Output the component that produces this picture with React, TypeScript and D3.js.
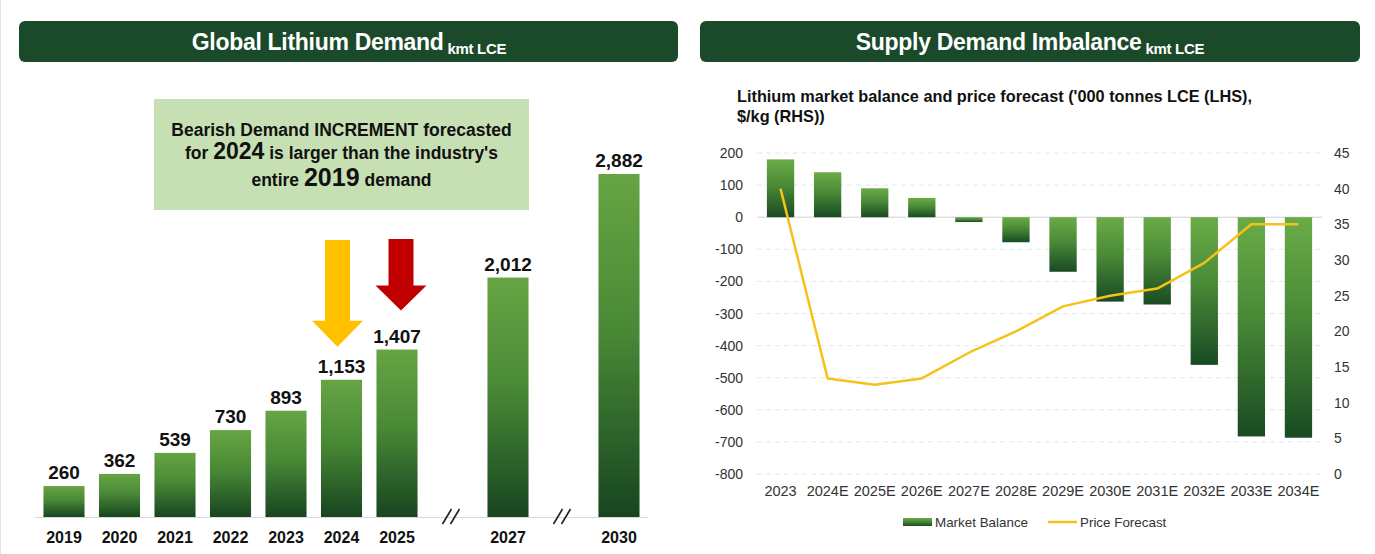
import React from 'react';
import * as d3 from 'd3';

// ---------- Left chart data ----------
const demandSlots = ['2019', '2020', '2021', '2022', '2023', '2024', '2025', 'break1', '2027', 'break2', '2030'];
const demandYears = ['2019', '2020', '2021', '2022', '2023', '2024', '2025', '2027', '2030'];
const demandValues = [260, 362, 539, 730, 893, 1153, 1407, 2012, 2882];
const breakSlots = ['break1', 'break2'];

// ---------- Right chart data ----------
const balanceCategories = ['2023', '2024E', '2025E', '2026E', '2027E', '2028E', '2029E', '2030E', '2031E', '2032E', '2033E', '2034E'];
const marketBalance = [180, 140, 90, 60, -15, -78, -170, -263, -272, -460, -683, -687];
const priceForecast = [40, 13.4, 12.5, 13.4, 17, 20, 23.5, 25, 26, 29.6, 35, 35];
const leftTicks = [200, 100, 0, -100, -200, -300, -400, -500, -600, -700, -800];
const rightTicks = [45, 40, 35, 30, 25, 20, 15, 10, 5, 0];

const FONT = "'Liberation Sans', Arial, Helvetica, sans-serif";
const HEADER = '#1b4a2a';

export default function App() {
  const W = 1375, H = 554;

  // left scales
  const xL = d3.scaleBand<string>().domain(demandSlots).range([36.25, 646.75]).paddingInner(0.26).paddingOuter(0.13);
  const yL = d3.scaleLinear().domain([0, 2882]).range([517, 174]);
  const fmt = d3.format(',');

  // right scales
  const xR = d3.scaleBand<string>().domain(balanceCategories).range([757, 1322]).paddingInner(0.42).paddingOuter(0.21);
  const yR = d3.scaleLinear().domain([-800, 200]).range([474, 153]);
  const yP = d3.scaleLinear().domain([0, 45]).range([474, 153]);

  const priceLine = d3.line<number>()
    .x((_, i) => (xR(balanceCategories[i]) as number) + xR.bandwidth() / 2)
    .y((d) => yP(d));

  const bw = xL.bandwidth();
  const cx = (k: string) => (xL(k) as number) + bw / 2;

  // arrows
  const yArrowX = cx('2024') - 4;
  const yArrowTip = yL(1153) - 33;
  const rArrowX = cx('2025') + 4;
  const rArrowTip = yL(1407) - 39;
  const arrow = (x: number, top: number, tip: number, headH: number) => {
    const sw = 12.5, hw = 25.5;
    return [
      [x - sw, top], [x + sw, top], [x + sw, tip - headH], [x + hw, tip - headH],
      [x, tip], [x - hw, tip - headH], [x - sw, tip - headH],
    ].map((p) => p.join(',')).join(' ');
  };

  return (
    <svg width={W} height={H} style={{ position: 'absolute', left: 0, top: 0, background: '#fff' }} fontFamily={FONT}>
      <defs>
        <linearGradient id="gL" x1="0" y1="0" x2="0" y2="1">
          <stop offset="0%" stopColor="#66a443" />
          <stop offset="45%" stopColor="#4a8a36" />
          <stop offset="100%" stopColor="#174520" />
        </linearGradient>
        <linearGradient id="gR" x1="0" y1="0" x2="0" y2="1">
          <stop offset="0%" stopColor="#6aab47" />
          <stop offset="45%" stopColor="#4a8a37" />
          <stop offset="100%" stopColor="#194a22" />
        </linearGradient>
      </defs>

      <line x1={0.5} x2={0.5} y1={0} y2={H} stroke="#e4e4e4" />

      {/* Headers */}
      <rect x={19} y={21} width={659} height={41} rx={6} fill={HEADER} />
      <text x={349} y={50} textAnchor="middle" fill="#fff" fontWeight="bold" fontSize={23} letterSpacing={-0.3}>
        Global Lithium Demand<tspan fontSize={15} dy={4}> kmt LCE</tspan>
      </text>
      <rect x={700} y={21} width={660} height={41} rx={6} fill={HEADER} />
      <text x={1030} y={50} textAnchor="middle" fill="#fff" fontWeight="bold" fontSize={23} letterSpacing={-0.3}>
        Supply Demand Imbalance<tspan fontSize={15} dy={4}> kmt LCE</tspan>
      </text>

      {/* ---------- Left chart ---------- */}
      <rect x={154} y={99} width={375} height={111} fill="#c6e0b4" />
      <g fontWeight="bold" fill="#111" textAnchor="middle">
        <text x={341.5} y={135.5} fontSize={17.5}>Bearish Demand INCREMENT forecasted</text>
        <text x={341.5} y={159} fontSize={17.5}>
          for <tspan fontSize={23}>2024</tspan> is larger than the industry's
        </text>
        <text x={341.5} y={186} fontSize={17.5}>
          entire <tspan fontSize={25}>2019</tspan> demand
        </text>
      </g>

      <polygon points={arrow(yArrowX, 240, yArrowTip, 26)} fill="#ffc000" />
      <polygon points={arrow(rArrowX, 239, rArrowTip, 25)} fill="#c00000" />

      <line x1={35} x2={648} y1={517.5} y2={517.5} stroke="#d9d9d9" strokeWidth={1} />

      {demandYears.map((yr, i) => (
        <g key={yr}>
          <rect x={xL(yr)} y={yL(demandValues[i])} width={bw} height={517 - yL(demandValues[i])} fill="url(#gL)" />
          <text x={cx(yr)} y={yL(demandValues[i]) - 7} textAnchor="middle" fontWeight="bold" fontSize={19} fill="#111">
            {fmt(demandValues[i])}
          </text>
          <text x={cx(yr)} y={542.5} textAnchor="middle" fontWeight="bold" fontSize={16} fill="#111">{yr}</text>
        </g>
      ))}

      {breakSlots.map((b) => {
        const c = cx(b);
        return (
          <g key={b} stroke="#222" strokeWidth={1.6}>
            <line x1={c - 10} y1={524} x2={c - 1} y2={509} />
            <line x1={c - 2} y1={524} x2={c + 7} y2={509} />
          </g>
        );
      })}

      {/* ---------- Right chart ---------- */}
      <text fontWeight="bold" fontSize={16.3} fill="#111">
        <tspan x={737} y={101.5}>Lithium market balance and price forecast ('000 tonnes LCE (LHS),</tspan>
        <tspan x={737} y={121.5}>$/kg (RHS))</tspan>
      </text>

      {leftTicks.map((t) => (
        <g key={t}>
          <line x1={757} x2={1322} y1={yR(t)} y2={yR(t)}
            stroke={t === 0 ? '#d0d0d0' : '#e6e6e6'} strokeDasharray={t === 0 ? undefined : '5,4'} />
          <text x={743} y={yR(t) + 5} textAnchor="end" fontSize={14} fill="#333">{t}</text>
        </g>
      ))}
      {rightTicks.map((t) => (
        <text key={t} x={1334} y={yP(t) + 5} fontSize={14} fill="#333">{t}</text>
      ))}

      {balanceCategories.map((c, i) => {
        const v = marketBalance[i];
        return (
          <rect key={c} x={xR(c)} y={Math.min(yR(v), yR(0))} width={xR.bandwidth()}
            height={Math.abs(yR(v) - yR(0))} fill="url(#gR)" />
        );
      })}

      <path d={priceLine(priceForecast) || ''} fill="none" stroke="#f4c21b" strokeWidth={2.5} strokeLinejoin="round" />

      {balanceCategories.map((c) => (
        <text key={c} x={(xR(c) as number) + xR.bandwidth() / 2} y={496} textAnchor="middle" fontSize={14.5} fill="#333">{c}</text>
      ))}

      {/* legend */}
      <rect x={903} y={518} width={29} height={8} fill="url(#gR)" />
      <text x={935} y={526.5} fontSize={13.4} fill="#333">Market Balance</text>
      <line x1={1048} x2={1077} y1={522} y2={522} stroke="#f4c21b" strokeWidth={2.5} />
      <text x={1080} y={526.5} fontSize={13.4} fill="#333">Price Forecast</text>
    </svg>
  );
}
